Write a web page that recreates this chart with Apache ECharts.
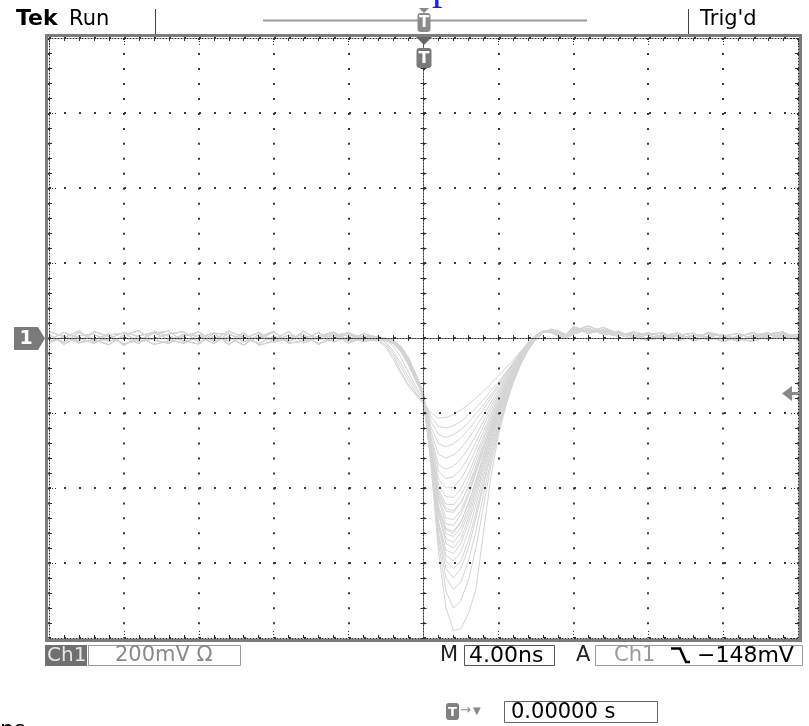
<!DOCTYPE html>
<html>
<head>
<meta charset="utf-8">
<title>Tek scope capture</title>
<script src="https://cdn.jsdelivr.net/npm/echarts@6/dist/echarts.min.js"></script>
<style>
  html, body { margin: 0; padding: 0; background: #fff; }
  #myChart { width: 809px; height: 726px; }
</style>
</head>
<body>
<div id="myChart"></div>
<script>
  // time in ns (4 ns/div, trigger at 0), amplitude in mV (200 mV/div)
  var timeLeft = [-20, -19.2, -18.4, -17.6, -16.8, -16, -15.2, -14.4, -13.6, -12.8, -12, -11.2,
    -10.4, -9.6, -8.8, -8, -7.2, -6.4, -5.6, -4.8, -4, -3.2]
  var timePulse = [-2.4, -2, -1.6, -1.2, -0.8, -0.4, 0, 0.4, 0.8, 1.2, 1.6, 2, 2.4, 2.8, 3.2,
    3.6, 4, 4.4, 4.8, 5.2, 5.6, 6, 6.4, 6.8, 7.2, 7.6]
  var timeTail = [8, 8.8, 9.6, 10.4, 11.2, 12, 12.8, 13.6, 14.4, 15.2, 16, 16.8, 17.6, 18.4, 19.2, 20]

  // baseline noise before the pulse
  var noiseLeft = [
    [8, -12, 15, -4, -18, 9, 19, -6, -14, 5, 16, -9, 3, -19, 10, -5, 17, -13, 1, 14, -8, 5],
    [-14, 5, -8, 17, 4, -16, -5, 13, 18, -10, 0, 14, -17, 8, -4, 16, -9, 5, -15, -1, 10, -5],
    [17, 4, -13, -5, 11, -20, 6, 15, -4, -14, 9, -6, 19, 1, -15, 5, -10, 18, -5, 9, -13, 0],
    [-5, 15, 0, -14, 8, 13, -10, -2, 11, 17, -11, 4, -8, 14, -19, -9, 8, -4, 15, -10, 4, -9],
    [11, -17, 6, 10, -9, 2, -15, 18, 5, -8, -16, 13, 9, -2, 15, -11, -1, 10, -17, 6, 14, -2],
    [-9, 1, 19, -11, -2, 15, 4, -17, -8, 10, 6, -15, 13, -10, 2, 18, -14, -8, 5, 16, -6, 11]
  ]
  // baseline noise after the pulse (small overshoot first)
  var noiseTail = [
    [22, 15, 28, 12, 6, 14, 3, -5, 9, 2, -8, 6, 12, -4, 7, 1],
    [14, 26, 10, 18, 2, -6, 11, 5, -3, 13, 4, -9, 7, 14, -2, 5],
    [30, 18, 20, 7, 12, -3, 6, 14, -8, 4, 10, -5, 3, 11, 16, -3],
    [10, 24, 13, 5, 16, 8, -4, 7, 13, -6, 5, 12, -3, 8, 4, 10],
    [18, 32, 16, 9, -2, 10, 14, -7, 5, 11, -10, 2, 15, -1, 9, -6],
    [26, 12, 22, 14, 8, -5, 2, 10, -4, 15, 7, -2, -9, 6, 12, 3]
  ]

  // pulse part of every captured trace, one value per timePulse point
  var traces = [
    [3, -2, -8, -24, -55, -98, -150, -340, -570, -720, -780, -775, -735, -670, -520, -370, -260, -180, -115, -65, -28, -2, 15, 24, 20, 10],
    [-2, -6, -12, -30, -60, -104, -152, -330, -545, -675, -720, -700, -645, -560, -450, -340, -250, -178, -118, -70, -32, -4, 14, 22, 18, 8],
    [1, -3, -9, -26, -56, -100, -148, -320, -530, -640, -670, -650, -595, -515, -420, -325, -240, -170, -112, -66, -30, -3, 15, 23, 17, 6],
    [-4, -8, -15, -36, -68, -110, -156, -330, -520, -615, -640, -615, -560, -480, -395, -310, -232, -166, -110, -64, -28, -1, 16, 22, 15, 5],
    [2, -1, -6, -22, -52, -96, -146, -310, -500, -595, -615, -595, -540, -465, -385, -305, -228, -162, -106, -60, -25, 2, 17, 22, 14, 4],
    [0, -4, -11, -30, -62, -106, -152, -315, -495, -580, -595, -570, -515, -445, -370, -292, -220, -156, -102, -58, -24, 3, 17, 21, 13, 3],
    [-1, -5, -13, -34, -66, -108, -154, -320, -490, -565, -575, -548, -494, -428, -356, -282, -212, -150, -98, -55, -22, 4, 18, 21, 12, 2],
    [3, 0, -6, -24, -54, -98, -148, -305, -470, -548, -560, -535, -480, -415, -345, -274, -206, -146, -95, -53, -20, 5, 18, 20, 11, 2],
    [0, -3, -9, -28, -60, -104, -150, -310, -468, -535, -545, -518, -466, -402, -335, -266, -200, -142, -92, -51, -19, 6, 18, 20, 10, 1],
    [-2, -6, -14, -35, -67, -110, -155, -312, -460, -522, -530, -505, -455, -392, -326, -260, -196, -139, -90, -50, -18, 6, 18, 19, 10, 1],
    [1, -2, -7, -25, -56, -100, -148, -300, -448, -508, -515, -490, -442, -382, -318, -254, -192, -136, -88, -48, -17, 7, 19, 19, 9, 0],
    [-1, -4, -10, -30, -62, -105, -150, -300, -430, -495, -500, -470, -420, -360, -300, -240, -185, -135, -92, -55, -25, 0, 15, 22, 16, 6],
    [2, -1, -8, -26, -57, -101, -149, -295, -425, -480, -485, -460, -412, -354, -295, -237, -182, -132, -89, -52, -22, 2, 16, 21, 14, 5],
    [-3, -7, -15, -36, -68, -110, -154, -298, -418, -462, -465, -440, -395, -340, -283, -228, -176, -128, -86, -50, -21, 3, 16, 20, 13, 4],
    [0, -3, -10, -30, -62, -106, -151, -290, -405, -443, -445, -420, -378, -326, -272, -220, -170, -124, -84, -48, -19, 4, 17, 20, 12, 3],
    [1, -2, -8, -27, -58, -102, -149, -282, -390, -423, -425, -402, -362, -313, -262, -212, -164, -120, -80, -46, -18, 5, 17, 19, 11, 2],
    [-2, -6, -13, -34, -66, -108, -153, -278, -375, -400, -398, -376, -340, -296, -250, -203, -158, -116, -78, -44, -16, 6, 18, 19, 10, 2],
    [2, -1, -7, -25, -56, -100, -148, -268, -355, -375, -370, -350, -318, -278, -236, -193, -151, -111, -75, -42, -14, 7, 18, 18, 9, 1],
    [-1, -4, -11, -32, -64, -106, -152, -262, -338, -350, -342, -322, -294, -260, -222, -183, -144, -106, -71, -40, -13, 8, 18, 17, 8, 0],
    [0, -5, -14, -38, -72, -114, -156, -250, -310, -320, -312, -294, -268, -238, -206, -172, -137, -102, -69, -39, -12, 8, 17, 16, 8, 0],
    [3, -2, -12, -36, -72, -115, -158, -238, -282, -290, -282, -266, -244, -218, -190, -160, -129, -97, -66, -37, -11, 8, 17, 16, 7, -1],
    [1, -6, -22, -52, -92, -130, -162, -222, -258, -265, -258, -244, -225, -202, -178, -152, -124, -95, -66, -38, -12, 7, 16, 15, 7, -1],
    [-2, -12, -35, -68, -104, -138, -166, -210, -236, -240, -234, -222, -206, -186, -164, -141, -117, -92, -65, -38, -13, 6, 16, 15, 6, -1],
    [2, -14, -42, -78, -114, -146, -172, -200, -214, -212, -204, -192, -177, -160, -142, -122, -101, -80, -58, -35, -12, 6, 15, 14, 5, -1],
    [-5, -20, -50, -90, -125, -150, -170, -300, -410, -455, -460, -438, -398, -348, -292, -236, -183, -134, -90, -52, -22, 2, 15, 20, 13, 4],
    [-8, -25, -58, -95, -128, -152, -175, -320, -455, -512, -520, -492, -440, -378, -312, -248, -188, -136, -90, -52, -20, 4, 17, 21, 12, 3]
  ]

  var DOT = '#2e2e2e'
  var FONT = '"DejaVu Sans", sans-serif'

  function buildSeries() {
    return traces.map(function (vals, i) {
      var pts = []
      timeLeft.forEach(function (t, k) { pts.push([t, noiseLeft[i % 6][k]]) })
      timePulse.forEach(function (t, k) { pts.push([t, vals[k]]) })
      timeTail.forEach(function (t, k) { pts.push([t, noiseTail[(i * 5 + 2) % 6][k]]) })
      return {
        type: 'line',
        xAxisIndex: 0,
        yAxisIndex: 0,
        data: pts,
        symbol: 'none',
        silent: true,
        z: 1,
        lineStyle: { color: '#d4d4d4', width: 1 }
      }
    })
  }

  // graticule edge axis (ticks pointing inwards)
  function edgeAxis(pos, min, max, step, dash) {
    return {
      type: 'value', position: pos, min: min, max: max, interval: step, z: 5, silent: true,
      axisLine: { show: true, onZero: false, lineStyle: { color: DOT, width: 1, type: [1, 2] } },
      axisTick: { show: true, inside: true, length: 8, lineStyle: { color: DOT, type: [1, 2] } },
      minorTick: { show: true, splitNumber: 5, length: 3, lineStyle: { color: DOT } },
      axisLabel: { show: false },
      splitLine: { show: dash != null, lineStyle: { color: '#3a3a3a', width: 2, type: dash || 'solid' } }
    }
  }

  // centre cross-hair axis
  function centreAxis(pos, min, max, step) {
    return {
      type: 'value', position: pos, min: min, max: max, interval: step, z: 5, silent: true,
      axisLine: { show: true, onZero: true, onZeroAxisIndex: 0, lineStyle: { color: DOT, width: 1, type: [1, 2] } },
      axisTick: { show: true, length: 3, lineStyle: { color: DOT } },
      minorTick: { show: true, splitNumber: 5, length: 3, lineStyle: { color: DOT } },
      axisLabel: { show: false },
      splitLine: { show: false }
    }
  }

  function txt(text, x, y, size, color, opts) {
    var st = { text: text, fontSize: size, fontFamily: FONT, fill: color, verticalAlign: 'middle', align: 'left' }
    if (opts) for (var k in opts) st[k] = opts[k]
    return { type: 'text', x: x, y: y, z: 20, style: st }
  }

  function box(x, y, w, h, stroke, fill) {
    return { type: 'rect', z: 19, shape: { x: x, y: y, width: w, height: h },
      style: { fill: fill || 'none', stroke: stroke || null, lineWidth: 1 } }
  }

  function tag(x, y, w, h, color, size) {
    return [
      { type: 'rect', z: 20, shape: { x: x, y: y, width: w, height: h, r: 3 }, style: { fill: color } },
      txt('T', x + w / 2, y + h / 2 + 1, size, '#fff', { align: 'center', fontWeight: 'bold' })
    ]
  }

  var decor = [
    // screen frame
    { type: 'rect', z: 10, shape: { x: 46.5, y: 35.5, width: 754, height: 605 },
      style: { fill: 'none', stroke: '#7c7c7c', lineWidth: 3 } },
    // caption fragment cut off at the top
    txt('p', 432, 9, 42, '#1a1aff', { verticalAlign: 'bottom', fontFamily: '"Liberation Serif", serif' }),
    // status bar
    txt('Tek', 16, 19.5, 22, '#000', { fontWeight: 'bold' }),
    txt('Run', 69, 19.5, 21, '#000'),
    txt("Trig'd", 700, 19.5, 21, '#000'),
    { type: 'line', z: 19, shape: { x1: 155.5, y1: 9, x2: 155.5, y2: 34 }, style: { stroke: '#444', lineWidth: 1 } },
    { type: 'line', z: 19, shape: { x1: 688.5, y1: 9, x2: 688.5, y2: 34 }, style: { stroke: '#444', lineWidth: 1 } },
    { type: 'line', z: 19, shape: { x1: 263, y1: 20.5, x2: 587, y2: 20.5 }, style: { stroke: '#9a9a9a', lineWidth: 2 } },
    { type: 'polygon', z: 20, shape: { points: [[419, 8], [429, 8], [424, 13]] }, style: { fill: '#888' } },
    { type: 'polygon', z: 20, shape: { points: [[416, 37], [432, 37], [424, 45]] }, style: { fill: '#666' } },
    // channel 1 ground marker and trigger level arrow
    { type: 'polygon', z: 20, shape: { points: [[14, 327], [38, 327], [45, 338.5], [38, 350], [14, 350]] }, style: { fill: '#7a7a7a' } },
    txt('1', 26, 339, 19, '#fff', { align: 'center', fontWeight: 'bold' }),
    { type: 'polygon', z: 20, shape: { points: [[782, 393.5], [792, 386], [792, 401]] }, style: { fill: '#888' } },
    { type: 'rect', z: 20, shape: { x: 792, y: 392, width: 6, height: 3 }, style: { fill: '#888' } },
    // readouts
    box(45, 645, 42, 21, null, '#707070'),
    txt('Ch1', 47, 656, 20, '#e6e6e6'),
    box(88.5, 645.5, 152, 20, '#9a9a9a'),
    txt('200mV \u03a9', 115, 656, 21, '#8a8a8a'),
    txt('M', 440, 656, 21, '#222'),
    box(464.5, 645.5, 90, 20, '#555'),
    txt('4.00ns', 469, 656, 22, '#000'),
    txt('A', 576, 656, 21, '#222'),
    box(595.5, 645.5, 207, 20, '#9a9a9a'),
    txt('Ch1', 614, 656, 21, '#999'),
    { type: 'polyline', z: 20, shape: { points: [[671, 648.5], [680, 648.5], [686, 662], [690, 662]] },
      style: { stroke: '#000', lineWidth: 2.5, fill: 'none' } },
    txt('\u2212148mV', 697, 656, 22, '#000'),
    txt('\u2192', 460, 711, 13, '#888'),
    txt('\u25bc', 473, 711, 10, '#888'),
    box(504.5, 701.5, 153, 21, '#666'),
    txt('0.00000 s', 511, 712.5, 21, '#000'),
    txt('ns', 0, 719.5, 22, '#000', { verticalAlign: 'top' })
  ].concat(tag(417.5, 13, 13, 19, '#8a8a8a', 15), tag(416.5, 48, 15, 20, '#7a7a7a', 16), tag(446, 703, 13, 17, '#808080', 13))

  var myChart = echarts.init(document.getElementById('myChart'))
  myChart.setOption({
    animation: false,
    backgroundColor: '#fff',
    grid: { left: 49, top: 38, width: 749, height: 600, show: false },
    xAxis: [
      edgeAxis('bottom', -20, 20, 4, [2, 12.98]),
      edgeAxis('top', -20, 20, 4, null),
      centreAxis('bottom', -20, 20, 4),
      centreAxis('top', -20, 20, 4)
    ],
    yAxis: [
      edgeAxis('left', -800, 800, 200, [2, 13]),
      edgeAxis('right', -800, 800, 200, null),
      centreAxis('left', -800, 800, 200),
      centreAxis('right', -800, 800, 200)
    ],
    series: buildSeries(),
    graphic: decor
  })
</script>
</body>
</html>
